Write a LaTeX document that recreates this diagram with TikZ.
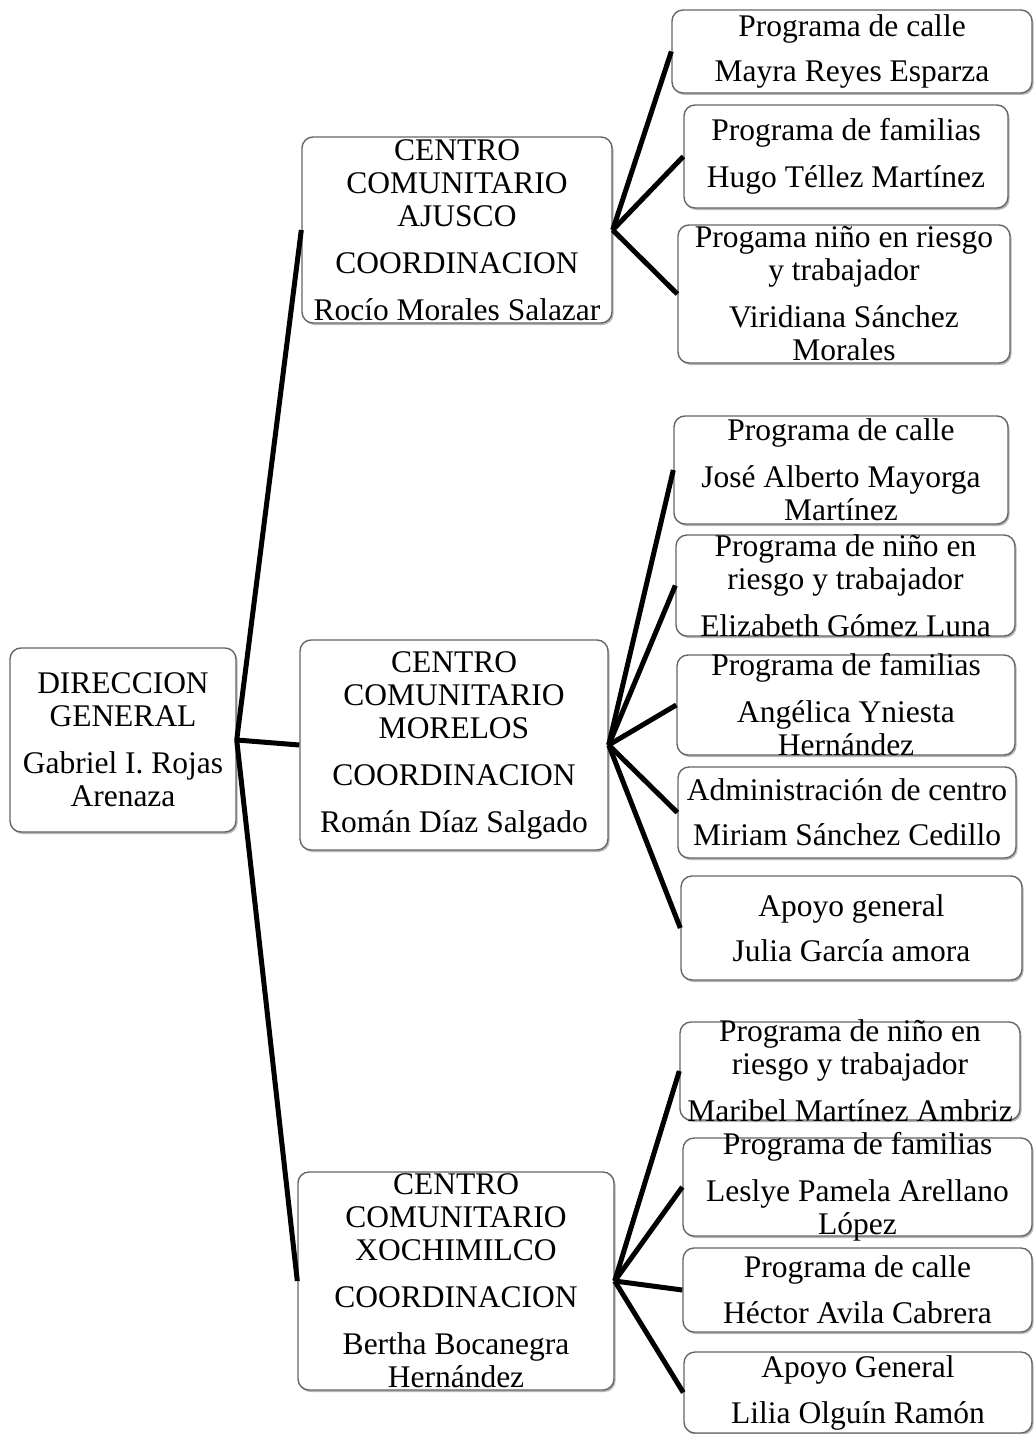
\documentclass[tikz,border=0pt]{standalone}
\usepackage{fontspec}
\setmainfont{Liberation Serif}
\usetikzlibrary{shadows}

\begin{document}
\begin{tikzpicture}[x=1pt,y=-1pt,
  caja/.style={draw=gray!80!black,line width=1.4pt,rounded corners=11pt,fill=white,
    drop shadow={shadow xshift=1.5pt,shadow yshift=-2pt,fill=gray!70,opacity=.8}},
  texto/.style={align=center,inner sep=0pt,font=\fontsize{31.5}{33}\selectfont},
  enlace/.style={line width=5pt}]

\useasboundingbox[fill=white] (0,0) rectangle (1033,1434);

% direccion y centros
\node[caja,minimum width=226pt,minimum height=184pt] (dg) at (123,740) {};
\node[caja,minimum width=310pt,minimum height=186pt] (aj) at (457,230) {};
\node[caja,minimum width=308pt,minimum height=210pt] (mo) at (454,745) {};
\node[caja,minimum width=316pt,minimum height=218pt] (xo) at (456,1281) {};

% programas Ajusco
\node[caja,minimum width=360pt,minimum height=83pt] (a1) at (852,51.5) {};
\node[caja,minimum width=324pt,minimum height=103pt] (a2) at (846,156.5) {};
\node[caja,minimum width=332pt,minimum height=138pt] (a3) at (844,294) {};

% programas Morelos
\node[caja,minimum width=334pt,minimum height=108pt] (m1) at (841,470) {};
\node[caja,minimum width=339pt,minimum height=101pt] (m2) at (845.5,585.5) {};
\node[caja,minimum width=338pt,minimum height=100pt] (m3) at (846,705) {};
\node[caja,minimum width=338pt,minimum height=91pt] (m4) at (847,812.5) {};
\node[caja,minimum width=341pt,minimum height=104pt] (m5) at (851.5,928) {};

% programas Xochimilco
\node[caja,minimum width=340pt,minimum height=98pt] (x1) at (850,1071) {};
\node[caja,minimum width=349pt,minimum height=98pt] (x2) at (857.5,1187) {};
\node[caja,minimum width=349pt,minimum height=84pt] (x3) at (857.5,1290) {};
\node[caja,minimum width=348pt,minimum height=81pt] (x4) at (858,1392.5) {};

\draw[enlace] (dg.east) -- (aj.west);
\draw[enlace] (dg.east) -- (mo.west);
\draw[enlace] (dg.east) -- (xo.west);

\draw[enlace] (aj.east) -- (a1.west);
\draw[enlace] (aj.east) -- (a2.west);
\draw[enlace] (aj.east) -- (a3.west);

\draw[enlace] (mo.east) -- (m1.west);
\draw[enlace] (mo.east) -- (m2.west);
\draw[enlace] (mo.east) -- (m3.west);
\draw[enlace] (mo.east) -- (m4.west);
\draw[enlace] (mo.east) -- (m5.west);

\draw[enlace] (xo.east) -- (x1.west);
\draw[enlace] (xo.east) -- (x2.west);
\draw[enlace] (xo.east) -- (x3.west);
\draw[enlace] (xo.east) -- (x4.west);

% textos
\node[texto] (dg-t) at (dg) {DIRECCION\\GENERAL\\[14pt]Gabriel I. Rojas\\Arenaza};
\node[texto] (aj-t) at (aj) {CENTRO\\COMUNITARIO\\AJUSCO\\[14pt]COORDINACION\\[14pt]Rocío Morales Salazar};
\node[texto] (mo-t) at (mo) {CENTRO\\COMUNITARIO\\MORELOS\\[14pt]COORDINACION\\[14pt]Román Díaz Salgado};
\node[texto] (xo-t) at (xo) {CENTRO\\COMUNITARIO\\XOCHIMILCO\\[14pt]COORDINACION\\[14pt]Bertha Bocanegra\\Hernández};

\node[texto] (a1-t) at (a1) {Programa de calle\\[12pt]Mayra Reyes Esparza};
\node[texto] (a2-t) at (a2) {Programa de familias\\[14pt]Hugo Téllez Martínez};
\node[texto] (a3-t) at (a3) {Progama niño en riesgo\\y trabajador\\[14pt]Viridiana Sánchez\\Morales};

\node[texto] (m1-t) at (m1) {Programa de calle\\[14pt]José Alberto Mayorga\\Martínez};
\node[texto] (m2-t) at (m2) {Programa de niño en\\riesgo y trabajador\\[14pt]Elizabeth Gómez Luna};
\node[texto] (m3-t) at (m3) {Programa de familias\\[14pt]Angélica Yniesta\\Hernández};
\node[texto] (m4-t) at (m4) {Administración de centro\\[12pt]Miriam Sánchez Cedillo};
\node[texto] (m5-t) at (m5) {Apoyo general\\[12pt]Julia García amora};

\node[texto] (x1-t) at (x1) {Programa de niño en\\riesgo y trabajador\\[14pt]Maribel Martínez Ambriz};
\node[texto] (x2-t) at (x2) {Programa de familias\\[14pt]Leslye Pamela Arellano\\López};
\node[texto] (x3-t) at (x3) {Programa de calle\\[13pt]Héctor Avila Cabrera};
\node[texto] (x4-t) at (x4) {Apoyo General\\[13pt]Lilia Olguín Ramón};
\end{tikzpicture}
\end{document}
